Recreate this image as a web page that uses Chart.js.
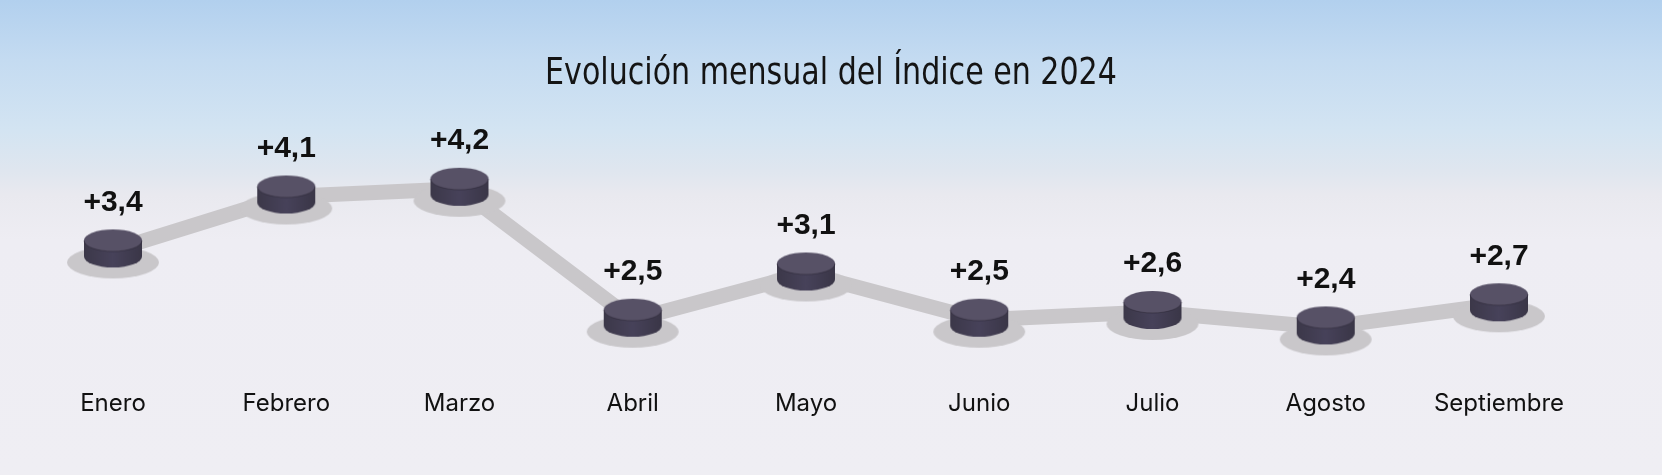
<!DOCTYPE html>
<html>
<head>
<meta charset="utf-8">
<script src="https://cdn.jsdelivr.net/npm/chart.js@4.4.0/dist/chart.umd.min.js"></script>
<style>
  html, body { margin: 0; padding: 0; }
  body {
    width: 1662px; height: 475px; overflow: hidden;
    background: linear-gradient(to bottom, #b2d0ee 0px, #c4dbf1 60px, #d3e4f2 130px, #dfe6ef 170px, #e9e9ef 195px, #eeedf3 240px, #efeef3 475px);
  }
  #wrap { position: absolute; left: 0; top: 0; width: 1662px; height: 475px; }
</style>
</head>
<body>
<div id="wrap"><canvas id="c" width="1662" height="475"></canvas></div>
<script>
const months = ['Enero', 'Febrero', 'Marzo', 'Abril', 'Mayo', 'Junio', 'Julio', 'Agosto', 'Septiembre'];
const values = [3.4, 4.1, 4.2, 2.5, 3.1, 2.5, 2.6, 2.4, 2.7];
const titleText = 'Evolución mensual del Índice en 2024';

function makePuck() {
  const w = 100, h = 64;
  const cv = document.createElement('canvas');
  cv.width = w; cv.height = h;
  const g = cv.getContext('2d');
  const cx = w / 2, cy = h / 2;
  g.fillStyle = '#c9c7ca';
  g.beginPath(); g.ellipse(cx, cy + 12, 46, 16, 0, 0, Math.PI * 2); g.fill();
  const topY = cy - 10, thick = 16, rx = 29, ry = 11;
  const sg = g.createLinearGradient(cx - rx, 0, cx + rx, 0);
  sg.addColorStop(0, '#3c3849'); sg.addColorStop(0.5, '#47425a'); sg.addColorStop(1, '#3a3647');
  g.fillStyle = sg;
  g.beginPath();
  g.moveTo(cx - rx, topY);
  g.lineTo(cx - rx, topY + thick);
  g.ellipse(cx, topY + thick, rx, ry, 0, Math.PI, 0, true);
  g.lineTo(cx + rx, topY);
  g.closePath();
  g.fill();
  g.fillStyle = '#575166';
  g.beginPath(); g.ellipse(cx, topY, rx, ry, 0, 0, Math.PI * 2); g.fill();
  g.strokeStyle = 'rgba(40,36,50,0.5)'; g.lineWidth = 1;
  g.beginPath(); g.ellipse(cx, topY, rx, ry, 0, 0, Math.PI); g.stroke();
  return cv;
}
const puck = makePuck();

const labelPlugin = {
  id: 'valueLabels',
  afterDatasetsDraw(chart) {
    const ctx = chart.ctx;
    const meta = chart.getDatasetMeta(0);
    ctx.save();
    ctx.font = 'bold 30px "Liberation Sans", Arial, sans-serif';
    ctx.fillStyle = '#111111';
    ctx.textAlign = 'center';
    ctx.textBaseline = 'middle';
    meta.data.forEach((pt, i) => {
      const txt = '+' + values[i].toFixed(1).replace('.', ',');
      ctx.fillText(txt, pt.x, pt.y - 48);
    });
    ctx.restore();
  }
};

const titlePlugin = {
  id: 'centeredTitle',
  afterDraw(chart) {
    const ctx = chart.ctx;
    ctx.save();
    ctx.translate(chart.width / 2, 74);
    ctx.scale(0.88, 1);
    ctx.font = '38px "DejaVu Sans Condensed", "DejaVu Sans", sans-serif';
    ctx.fillStyle = '#141414';
    ctx.textAlign = 'center';
    ctx.textBaseline = 'middle';
    ctx.fillText(titleText, 0, 0);
    ctx.restore();
  }
};

new Chart(document.getElementById('c'), {
  type: 'line',
  data: {
    labels: months,
    datasets: [{
      data: values,
      borderColor: '#c9c7ca',
      borderWidth: 15,
      tension: 0,
      pointStyle: puck,
      pointRadius: 30,
      clip: false,
      borderJoinStyle: 'round'
    }]
  },
  options: {
    responsive: false,
    animation: false,
    events: [],
    layout: { padding: { left: 113, right: 163, top: 158, bottom: 26 } },
    plugins: {
      legend: { display: false },
      tooltip: { enabled: false },
      title: { display: false }
    },
    scales: {
      x: {
        offset: false,
        grid: { display: false, drawTicks: false },
        border: { display: false },
        ticks: {
          color: '#111111',
          font: { family: 'Inter, "Noto Sans", sans-serif', size: 24 },
          padding: 31,
          maxRotation: 0,
          autoSkip: false
        }
      },
      y: {
        display: false,
        min: 2.0,
        max: 4.6
      }
    }
  },
  plugins: [labelPlugin, titlePlugin]
});
</script>
</body>
</html>
